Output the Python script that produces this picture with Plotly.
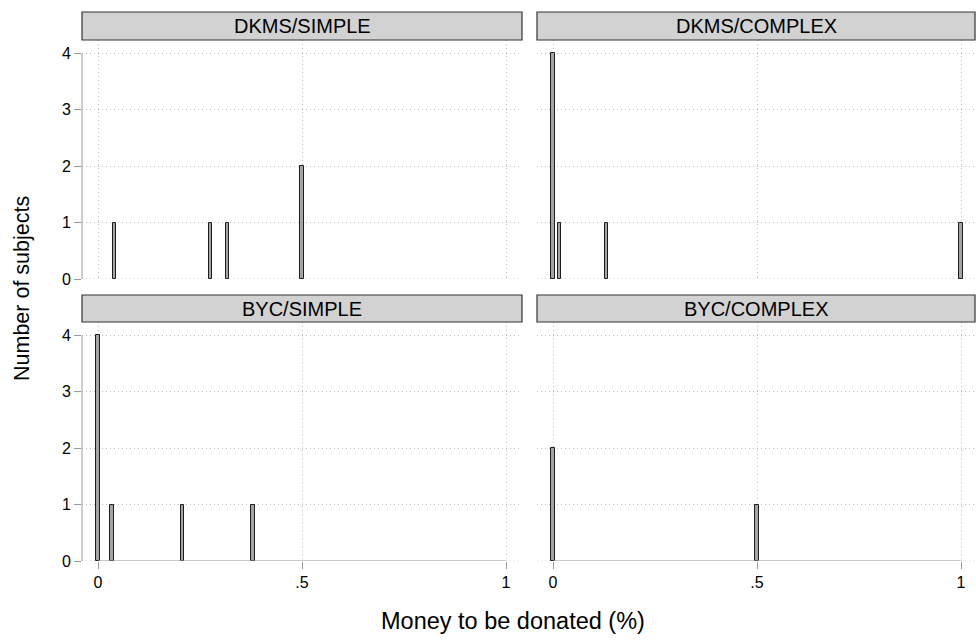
import plotly.graph_objects as go

W, H = 976, 641

panel_titles = ["DKMS/SIMPLE", "DKMS/COMPLEX", "BYC/SIMPLE", "BYC/COMPLEX"]
dkms_simple_x = [0.041, 0.276, 0.317, 0.5]
dkms_simple_n = [1, 1, 1, 2]
dkms_complex_x = [0.0, 0.0155, 0.132, 1.0]
dkms_complex_n = [4, 1, 1, 1]
byc_simple_x = [0.0, 0.034, 0.2075, 0.38]
byc_simple_n = [4, 1, 1, 1]
byc_complex_x = [0.0, 0.5]
byc_complex_n = [2, 1]

x_tickvals = [0, 0.5, 1]
x_ticktext = ["0", ".5", "1"]
y_tickvals = [0, 1, 2, 3, 4]
y_ticktext = ["0", "1", "2", "3", "4"]

series = [
    (dkms_simple_x, dkms_simple_n),
    (dkms_complex_x, dkms_complex_n),
    (byc_simple_x, byc_simple_n),
    (byc_complex_x, byc_complex_n),
]

FONT = "Liberation Sans, Arial, Helvetica, sans-serif"

cols = [(82, 522), (537, 975)]
rows = [(40, 279), (322, 561)]
hdr_rows = [(12, 40), (295, 322)]

def px(x):
    return x / W

def py(y):
    return (H - y) / H

fig = go.Figure()
layout = dict(
    width=W, height=H,
    margin=dict(l=0, r=0, t=0, b=0, pad=0, autoexpand=False),
    paper_bgcolor="white", plot_bgcolor="white",
    showlegend=False,
    font=dict(family=FONT, color="black"),
    bargap=0,
)

shapes = []
annotations = []
grid_color = "#bcbcbc"
grid_dash = "1px,3px"
axis_color = "#9a9a9a"

for i in range(4):
    r, c = divmod(i, 2)
    n = i + 1
    xa = "xaxis" if n == 1 else f"xaxis{n}"
    ya = "yaxis" if n == 1 else f"yaxis{n}"
    xr = "x" if n == 1 else f"x{n}"
    yr = "y" if n == 1 else f"y{n}"
    xs, ns = series[i]
    fig.add_trace(go.Bar(
        x=xs, y=ns, width=[0.008] * len(xs), xaxis=xr, yaxis=yr,
        marker=dict(color="#a4a4a4", line=dict(color="#1e1e1e", width=1)),
        cliponaxis=False,
    ))
    cl, cr = cols[c]
    rt, rb = rows[r]
    x0pix = 98 if c == 0 else 553
    upx = 408.0
    xmin = (cl - x0pix) / upx
    xmax = (cr - x0pix) / upx
    ymax = (rb - rt) / 56.4
    bottom = (r == 1)
    left = (c == 0)
    layout[xa] = dict(
        domain=[px(cl), px(cr)], range=[xmin, xmax], anchor=yr,
        tickvals=x_tickvals, ticktext=x_ticktext,
        showticklabels=bottom, ticks="outside" if bottom else "",
        ticklen=7, tickcolor=axis_color, tickwidth=1,
        tickfont=dict(size=16, family=FONT, color="black"),
        showgrid=True, gridcolor=grid_color, griddash=grid_dash, gridwidth=1,
        zeroline=False, showline=False, automargin=False,
    )
    layout[ya] = dict(
        domain=[py(rb), py(rt)], range=[0, ymax], anchor=xr,
        tickvals=y_tickvals, ticktext=y_ticktext,
        showticklabels=left, ticks="outside" if left else "",
        ticklen=7, tickcolor=axis_color, tickwidth=1,
        tickfont=dict(size=16, family=FONT, color="black"),
        showgrid=True, gridcolor=grid_color, griddash=grid_dash, gridwidth=1,
        zeroline=False, showline=False, automargin=False,
    )
    shapes.append(dict(type="line", xref=f"{xr} domain", yref=yr,
                       x0=0, x1=1, y0=y_tickvals[0], y1=y_tickvals[0],
                       line=dict(color=grid_color, width=1, dash=grid_dash),
                       layer="below"))
    if bottom:
        shapes.append(dict(type="line", xref=xr, yref=yr,
                           x0=x_tickvals[0], x1=x_tickvals[-1], y0=0, y1=0,
                           line=dict(color=axis_color, width=1)))
    if left:
        shapes.append(dict(type="line", xref=f"{xr} domain", yref=yr,
                           x0=0, x1=0, y0=y_tickvals[0], y1=y_tickvals[-1],
                           line=dict(color=axis_color, width=1)))
    ht, hb = hdr_rows[r]
    shapes.append(dict(type="rect", xref="paper", yref="paper",
                       x0=px(cl), x1=px(cr), y0=py(hb), y1=py(ht),
                       fillcolor="#d2d2d2", line=dict(color="#333333", width=1.2),
                       layer="above"))
    annotations.append(dict(text=panel_titles[i], xref="paper", yref="paper",
                            x=px((cl + cr) / 2), y=py((ht + hb) / 2),
                            xanchor="center", yanchor="middle", showarrow=False,
                            font=dict(size=20, family=FONT, color="black")))

annotations.append(dict(text="Money to be donated (%)", xref="paper", yref="paper",
                        x=px(513), y=py(621), xanchor="center", yanchor="middle",
                        showarrow=False, font=dict(size=23.5, family=FONT, color="black")))
annotations.append(dict(text="Number of subjects", xref="paper", yref="paper",
                        x=px(22), y=py(289), xanchor="center", yanchor="middle",
                        textangle=-90, showarrow=False,
                        font=dict(size=21.5, family=FONT, color="black")))

layout["shapes"] = shapes
layout["annotations"] = annotations
fig.update_layout(**layout)

fig.write_html(
    "out.html",
    config={"displayModeBar": False},
    post_script="document.body.style.margin='0';document.body.style.overflow='hidden';",
)
